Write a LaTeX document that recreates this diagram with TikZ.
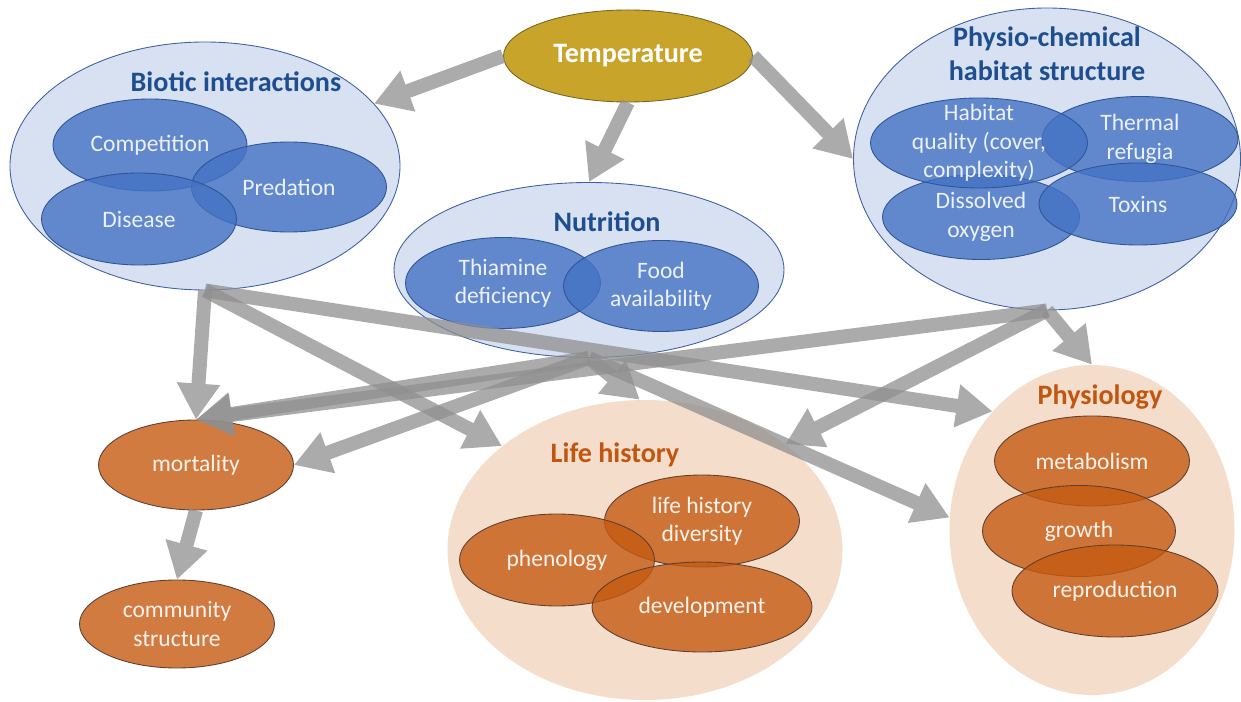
\documentclass[tikz,border=0pt]{standalone}
\usepackage{fontspec}
\setmainfont{Carlito}
\usetikzlibrary{shapes.geometric}
\usetikzlibrary{arrows.meta}

\definecolor{bigblue}{HTML}{D7E1F2}
\definecolor{blueedge}{HTML}{3F60A3}
\definecolor{setblue}{HTML}{4472C4}
\definecolor{setedge}{HTML}{2F5597}
\definecolor{titleblue}{HTML}{1F4E8F}
\definecolor{gold}{HTML}{C9A42B}
\definecolor{goldedge}{HTML}{7A6520}
\definecolor{bigpeach}{HTML}{F5DDCC}
\definecolor{setorange}{HTML}{C55A11}
\definecolor{orangeedge}{HTML}{5E4034}
\definecolor{titleorange}{HTML}{C0560F}
\definecolor{arrowgray}{HTML}{8F8F8F}

\tikzset{
  bluearea/.style={ellipse, draw=blueedge, fill=bigblue, line width=0.5pt, inner sep=0pt},
  blueset/.style={ellipse, draw=setedge, fill=setblue, fill opacity=.8, line width=0.5pt, inner sep=0pt},
  peacharea/.style={ellipse, fill=bigpeach, inner sep=0pt},
  orangeset/.style={ellipse, draw=orangeedge, fill=setorange, fill opacity=.8, line width=0.5pt, inner sep=0pt},
  bluetitle/.style={text=titleblue, font=\fontsize{16}{19.5}\selectfont\bfseries, align=center},
  orangetitle/.style={text=titleorange, font=\fontsize{16}{19.5}\selectfont\bfseries, align=center},
  bluetext/.style={text=white!90!setblue, font=\fontsize{13.4}{16.2}\selectfont, align=center},
  orangetext/.style={text=white!92!setorange, font=\fontsize{13.4}{16.2}\selectfont, align=center},
  flow/.style={draw=arrowgray, line width=0.28cm, -{Triangle[width=0.82cm,length=0.72cm]}},
}

\begin{document}
\begin{tikzpicture}
        \useasboundingbox (0,0) rectangle (24.82,-14.04);

        % Biotic interactions
        \node[bluearea, minimum width=7.8cm, minimum height=4.96cm] (bio) at (4.10,-3.32) {};
        \node[bluetitle] (biotitle) at (4.72,-1.64) {Biotic interactions};
        \node[blueset, minimum width=3.88cm, minimum height=1.84cm] (comp) at (3.00,-2.90) {};
        \node[blueset, minimum width=3.90cm, minimum height=1.80cm] (pred) at (5.78,-3.74) {};
        \node[blueset, minimum width=3.90cm, minimum height=1.84cm] (dis) at (2.78,-4.38) {};
        \node[bluetext] (comptxt) at (comp) {Competition};
        \node[bluetext] (predtxt) at (pred) {Predation};
        \node[bluetext] (distxt) at (dis) {Disease};

        % Temperature
        \node[ellipse, draw=goldedge, fill=gold, line width=0.5pt, minimum width=4.98cm, minimum height=1.84cm,
              text=white, font=\fontsize{16}{19.5}\selectfont\bfseries] (temp) at (12.56,-1.12) {Temperature};

        % Nutrition
        \node[bluearea, minimum width=7.8cm, minimum height=3.5cm] (nut) at (11.78,-5.40) {};
        \node[bluetitle] (nuttitle) at (12.14,-4.44) {Nutrition};
        \node[blueset, minimum width=3.90cm, minimum height=1.82cm] (thia) at (10.06,-5.66) {};
        \node[blueset, minimum width=3.90cm, minimum height=1.82cm] (food) at (13.22,-5.72) {};
        \node[bluetext] (thiatxt) at (thia) {Thiamine\\deficiency};
        \node[bluetext] (foodtxt) at (food) {Food\\availability};

        % Physio-chemical habitat structure
        \node[bluearea, minimum width=7.74cm, minimum height=6.04cm] (phys) at (20.94,-3.18) {};
        \node[bluetitle] (physttitle) at (20.94,-1.08) {Physio-chemical\\habitat structure};
        \node[blueset, minimum width=3.92cm, minimum height=1.70cm] (therm) at (22.80,-2.78) {};
        \node[blueset, minimum width=3.94cm, minimum height=1.70cm] (diss) at (19.62,-4.34) {};
        \node[blueset, minimum width=3.96cm, minimum height=1.64cm] (tox) at (22.76,-4.08) {};
        \node[blueset, minimum width=4.34cm, minimum height=1.80cm] (hab) at (19.58,-2.86) {};
        \node[bluetext] (habtxt) at (hab) {Habitat\\quality (cover,\\complexity)};
        \node[bluetext] (thermtxt) at (therm) {Thermal\\refugia};
        \node[bluetext] (disstxt) at (diss) {Dissolved\\oxygen};
        \node[bluetext] (toxtxt) at (tox) {Toxins};

        % Mortality and community
        \node[orangeset, minimum width=3.90cm, minimum height=1.80cm] (mort) at (3.92,-9.30) {};
        \node[orangeset, minimum width=3.90cm, minimum height=1.76cm] (comm) at (3.54,-12.48) {};
        \node[orangetext] (morttxt) at (mort) {mortality};
        \node[orangetext] (commtxt) at (comm) {community\\structure};

        % Life history
        \node[peacharea, minimum width=7.9cm, minimum height=6.0cm] (lh) at (12.90,-11.00) {};
        \node[orangetitle] (lhtitle) at (12.30,-9.10) {Life history};
        \node[orangeset, minimum width=3.90cm, minimum height=1.84cm] (lhd) at (14.04,-10.42) {};
        \node[orangeset, minimum width=3.90cm, minimum height=1.84cm] (phen) at (11.14,-11.20) {};
        \node[orangeset, minimum width=4.40cm, minimum height=1.80cm] (dev) at (14.04,-12.14) {};
        \node[orangetext] (lhdtxt) at (lhd) {life history\\diversity};
        \node[orangetext] (phentxt) at (phen) {phenology};
        \node[orangetext] (devtxt) at (dev) {development};

        % Physiology
        \node[peacharea, minimum width=5.7cm, minimum height=6.6cm] (phy) at (21.84,-10.60) {};
        \node[orangetitle] (phytitle) at (22.00,-7.94) {Physiology};
        \node[orangeset, minimum width=3.90cm, minimum height=1.80cm] (met) at (21.84,-9.22) {};
        \node[orangeset, minimum width=3.86cm, minimum height=1.82cm] (gro) at (21.58,-10.62) {};
        \node[orangeset, minimum width=4.12cm, minimum height=1.84cm] (rep) at (22.30,-11.82) {};
        \node[orangetext] (mettxt) at (met) {metabolism};
        \node[orangetext] (grotxt) at (gro) {growth};
        \node[orangetext] (reptxt) at (rep) {reproduction};

        % Arrows
        \foreach \from/\to in {temp.west/bio, temp.south/nut.north, temp.east/phys.west,
                               bio.south/mort.north, bio.south/lh.144, bio.south/phy.130,
                               nut.south/mort.north, nut.south/mort.east, nut.south/lh.92, nut.south/phy.175,
                               phys.south/mort.north, phys.south/lh.37, phys.south/phy.north,
                               mort.south/comm.north}{
          \begin{scope}[transparency group, opacity=.75]
            \draw[flow] (\from) -- (\to);
          \end{scope}
        }
\end{tikzpicture}
\end{document}
